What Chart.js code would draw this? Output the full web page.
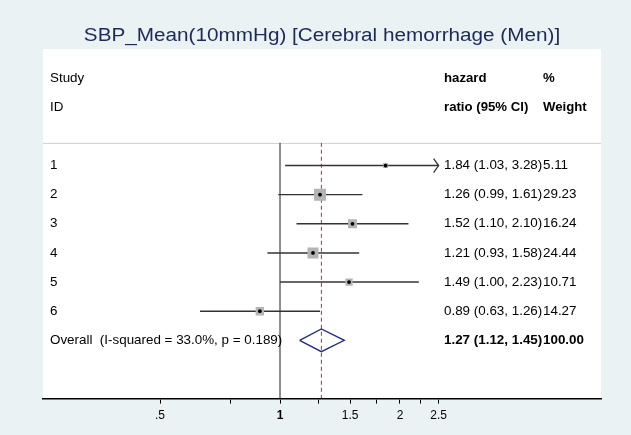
<!DOCTYPE html>
<html>
<head>
<meta charset="utf-8">
<script src="https://cdn.jsdelivr.net/npm/chart.js@4/dist/chart.umd.min.js"></script>
<style>
  html, body { margin: 0; padding: 0; background: #eaf2f3; }
  canvas { display: block; }
</style>
</head>
<body>
<canvas id="c" width="631" height="435"></canvas>
<script>
// ---- data ----
const chartTitle = 'SBP_Mean(10mmHg) [Cerebral hemorrhage (Men)]';
const studyIds = ['1', '2', '3', '4', '5', '6'];
const hazardRatio = [1.84, 1.26, 1.52, 1.21, 1.49, 0.89];
const ciLower = [1.03, 0.99, 1.10, 0.93, 1.00, 0.63];
const ciUpper = [3.28, 1.61, 2.10, 1.58, 2.23, 1.26];
const weightPct = [5.11, 29.23, 16.24, 24.44, 10.71, 14.27];
const resultText = ['1.84 (1.03, 3.28)', '1.26 (0.99, 1.61)', '1.52 (1.10, 2.10)', '1.21 (0.93, 1.58)', '1.49 (1.00, 2.23)', '0.89 (0.63, 1.26)'];
const weightText = ['5.11', '29.23', '16.24', '24.44', '10.71', '14.27'];
const overallLabel = 'Overall  (I-squared = 33.0%, p = 0.189)';
const overallValues = [1.27, 1.12, 1.45]; // estimate, lower, upper
const overallResultText = '1.27 (1.12, 1.45)';
const overallWeightText = '100.00';
const headerLeft = ['Study', 'ID'];
const headerMid = ['hazard', 'ratio (95% CI)'];
const headerRight = ['%', 'Weight'];
const tickValues = [0.5, 0.75, 1, 1.25, 1.5, 1.75, 2, 2.25, 2.5];
const tickLabels = ['.5', '', '1', '', '1.5', '', '2', '', '2.5'];
const nullValue = 1;

// ---- derived ----
const rows = studyIds.map((_, i) => i + 1);
const overallRow = studyIds.length + 1;
const clipMax = tickValues[tickValues.length - 1];
const X_MIN = 0.2543, X_MAX = 6.388;
const FONT = '"Liberation Sans", Arial, Helvetica, sans-serif';

const datasets = [];
// centre dots
datasets.push({
  type: 'scatter', order: 0,
  data: hazardRatio.map((v, i) => ({ x: v, y: rows[i] })),
  pointStyle: 'circle', pointRadius: 1.9, pointBackgroundColor: '#000', pointBorderWidth: 0
});
// weight boxes
datasets.push({
  type: 'scatter', order: 1,
  data: hazardRatio.map((v, i) => ({ x: v, y: rows[i] })),
  pointStyle: 'rect',
  pointRadius: weightPct.map(w => Math.sqrt(w) * 2.22 / Math.SQRT2),
  pointBackgroundColor: '#b4b4b4', pointBorderWidth: 0
});
// CI lines
rows.forEach((r, i) => {
  datasets.push({
    type: 'line', order: 2,
    data: [{ x: ciLower[i], y: r }, { x: Math.min(ciUpper[i], clipMax), y: r }],
    borderColor: '#333', borderWidth: 1.4, pointRadius: 0, fill: false
  });
});
// diamond
const dh = 0.39;
datasets.push({
  type: 'line', order: 3,
  data: [
    { x: overallValues[1], y: overallRow },
    { x: overallValues[0], y: overallRow - dh },
    { x: overallValues[2], y: overallRow },
    { x: overallValues[0], y: overallRow + dh },
    { x: overallValues[1], y: overallRow }
  ],
  borderColor: '#1b2a8a', borderWidth: 1.3, pointRadius: 0, fill: false, tension: 0
});
// null line
datasets.push({
  type: 'line', order: 4,
  data: [{ x: nullValue, y: 0.22 }, { x: nullValue, y: 9 }],
  borderColor: '#444', borderWidth: 1.2, pointRadius: 0, fill: false
});
// overall dashed line
datasets.push({
  type: 'line', order: 5,
  data: [{ x: overallValues[0], y: 0.22 }, { x: overallValues[0], y: 9 }],
  borderColor: '#b03030', borderWidth: 1, borderDash: [4, 3], pointRadius: 0, fill: false
});
// light separator
datasets.push({
  type: 'line', order: 6,
  data: [{ x: X_MIN, y: 0.24 }, { x: X_MAX, y: 0.24 }],
  borderColor: '#d0d0d0', borderWidth: 1, pointRadius: 0, fill: false
});

const forestPlugin = {
  id: 'forest',
  beforeDraw(chart) {
    const { ctx, chartArea: a } = chart;
    ctx.save();
    ctx.fillStyle = '#eaf2f3';
    ctx.fillRect(0, 0, chart.width, chart.height);
    ctx.fillStyle = '#ffffff';
    ctx.fillRect(a.left, a.top, a.right - a.left, a.bottom - a.top);
    ctx.restore();
  },
  afterDraw(chart) {
    const { ctx, chartArea: a } = chart;
    const ys = chart.scales.y, xs = chart.scales.x;
    ctx.save();
    // title (horizontally widened to match reference rendering)
    ctx.fillStyle = '#1c2a55';
    ctx.font = '18px ' + FONT;
    ctx.textAlign = 'center';
    ctx.textBaseline = 'alphabetic';
    const cx = (a.left + a.right) / 2;
    ctx.save();
    ctx.translate(cx, 41);
    ctx.scale(1.15, 1);
    ctx.fillText(chartTitle, 0, 0);
    ctx.restore();

    const xLabel = a.left + 7, xRes = a.left + 401, xW = a.left + 500;
    ctx.fillStyle = '#000';
    ctx.textAlign = 'left';
    ctx.textBaseline = 'middle';
    const f = '13.4px ' + FONT;
    const fb = 'bold 13.4px ' + FONT;
    ctx.font = f;
    [-2, -1].forEach((r, k) => {
      const y = ys.getPixelForValue(r);
      ctx.fillText(headerLeft[k], xLabel, y);
    });
    ctx.font = 'bold 13.2px ' + FONT;
    [-2, -1].forEach((r, k) => {
      const y = ys.getPixelForValue(r);
      ctx.fillText(headerMid[k], xRes, y);
      ctx.fillText(headerRight[k], xW, y);
    });
    ctx.font = f;
    rows.forEach((r, i) => {
      const y = ys.getPixelForValue(r);
      ctx.fillText(studyIds[i], xLabel, y);
      ctx.fillText(resultText[i], xRes, y);
      ctx.fillText(weightText[i], xW, y);
    });
    const yo = ys.getPixelForValue(overallRow);
    ctx.fillText(overallLabel, xLabel, yo);
    ctx.font = fb;
    ctx.fillText(overallResultText, xRes, yo);
    ctx.fillText(overallWeightText, xW, yo);

    // arrows for clipped CIs
    ctx.strokeStyle = '#333';
    ctx.lineWidth = 1.3;
    rows.forEach((r, i) => {
      if (ciUpper[i] > clipMax) {
        const px = xs.getPixelForValue(clipMax), py = ys.getPixelForValue(r);
        ctx.beginPath();
        ctx.moveTo(px - 5, py - 7);
        ctx.lineTo(px, py);
        ctx.lineTo(px - 5, py + 7);
        ctx.stroke();
      }
    });
    ctx.restore();
  }
};

new Chart(document.getElementById('c'), {
  data: { datasets },
  options: {
    responsive: false,
    animation: false,
    devicePixelRatio: 1,
    layout: { padding: { left: 43, right: 30, top: 49, bottom: 7 } },
    plugins: { legend: { display: false }, tooltip: { enabled: false }, title: { display: false } },
    scales: {
      x: {
        type: 'logarithmic',
        min: X_MIN, max: X_MAX,
        afterBuildTicks(scale) { scale.ticks = tickValues.map(v => ({ value: v })); },
        ticks: {
          autoSkip: false, maxRotation: 0, padding: 5, color: '#000',
          font: (c) => ({ family: FONT, size: 12, weight: (c.tick && c.tick.value === 1) ? 'bold' : 'normal' }),
          callback: (v, i) => tickLabels[i]
        },
        grid: { drawOnChartArea: false, drawTicks: true, tickLength: 5, color: '#000', lineWidth: 1 },
        border: { display: true, color: '#000', width: 1.6 }
      },
      y: {
        type: 'linear', min: -3, max: 9, reverse: true, display: false
      }
    }
  },
  plugins: [forestPlugin]
});
</script>
</body>
</html>
